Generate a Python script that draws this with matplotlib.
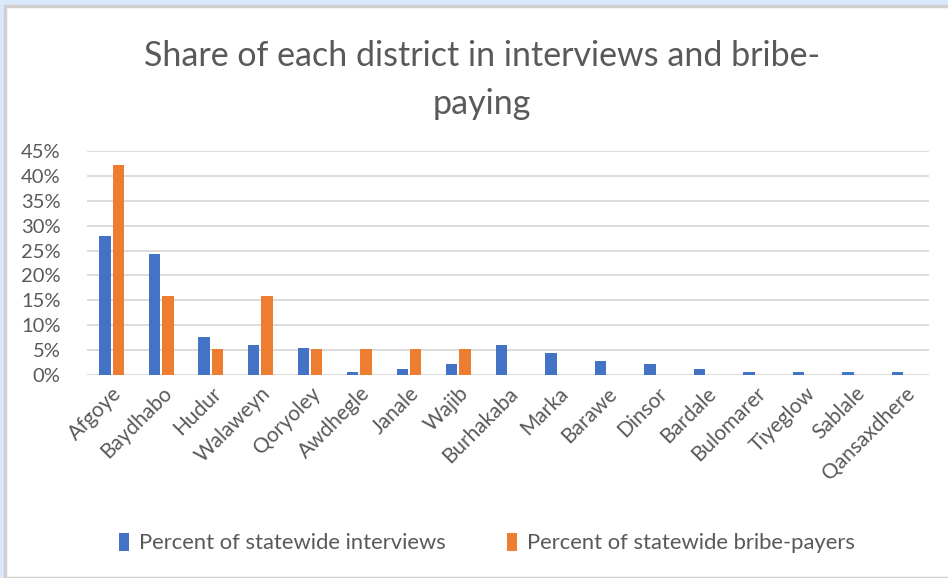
import numpy as np
import matplotlib.pyplot as plt
from matplotlib.patches import Rectangle
from matplotlib.ticker import PercentFormatter

# District shares (fractions of statewide totals)
districts = ["Afgoye", "Baydhabo", "Hudur", "Walaweyn", "Qoryoley", "Awdhegle",
             "Janale", "Wajib", "Burhakaba", "Marka", "Barawe", "Dinsor",
             "Bardale", "Bulomarer", "Tiyeglow", "Sablale", "Qansaxdhere"]
interviews = [0.280, 0.243, 0.077, 0.061, 0.055, 0.007, 0.013, 0.023, 0.061,
              0.045, 0.029, 0.023, 0.013, 0.007, 0.007, 0.007, 0.007]
bribe_payers = [0.421, 0.158, 0.053, 0.158, 0.053, 0.053, 0.053, 0.053, 0,
                0, 0, 0, 0, 0, 0, 0, 0]

label_font = ["Lato", "DejaVu Sans"]
text_color = "#595959"
blue = "#4472C4"
orange = "#ED7D31"

fig = plt.figure(figsize=(9.48, 5.78), dpi=100)
fig.patch.set_facecolor("#DAE8FC")

# white chart area with a thin grey frame
W, H = 948, 578
fig.patches.append(Rectangle((5 / W, 0), 1, 1 - 6 / H, transform=fig.transFigure,
                             facecolor="white", edgecolor="#D0D0D0", linewidth=2.5,
                             zorder=-5))

ax = fig.add_axes([87 / W, 1 - 375 / H, (929 - 87) / W, (375 - 151) / H])
ax.set_facecolor("white")

x = np.arange(len(districts))
w = 0.23
ax.bar(x - w / 2 - 0.02, interviews, w, color=blue, label="Percent of statewide interviews", zorder=3)
ax.bar(x + w / 2 + 0.02, bribe_payers, w, color=orange, label="Percent of statewide bribe-payers", zorder=3)

ax.set_xlim(-0.5, len(districts) - 0.5)
ax.set_ylim(0, 0.45)
ax.set_yticks(np.arange(0, 0.451, 0.05))
ax.yaxis.set_major_formatter(PercentFormatter(1.0, decimals=0))
ax.grid(axis="y", color="#D9D9D9", linewidth=1.3, zorder=0)
for s in ax.spines.values():
    s.set_visible(False)
ax.tick_params(length=0, labelcolor=text_color)
ax.tick_params(axis="y", pad=19)
for lab in ax.get_yticklabels():
    lab.set_family(label_font)
    lab.set_fontsize(14.5)

ax.set_xticks(x)
ax.set_xticklabels(districts, rotation=45, ha="right", rotation_mode="anchor",
                   family=label_font, fontsize=15, color=text_color)
ax.tick_params(axis="x", pad=6)

fig.text(0.508, 0.93, "Share of each district in interviews and bribe-\npaying",
         ha="center", va="top", family=label_font, fontsize=24.5, color=text_color,
         linespacing=1.6)

leg = fig.legend(loc="center", bbox_to_anchor=(0.514, 0.06), ncol=2, frameon=False,
                 handlelength=0.45, handleheight=0.85, columnspacing=2.8, handletextpad=0.45,
                 prop={"family": label_font, "size": 15.8})
for t in leg.get_texts():
    t.set_color(text_color)

fig.savefig("out.png", dpi=100, facecolor=fig.get_facecolor())
